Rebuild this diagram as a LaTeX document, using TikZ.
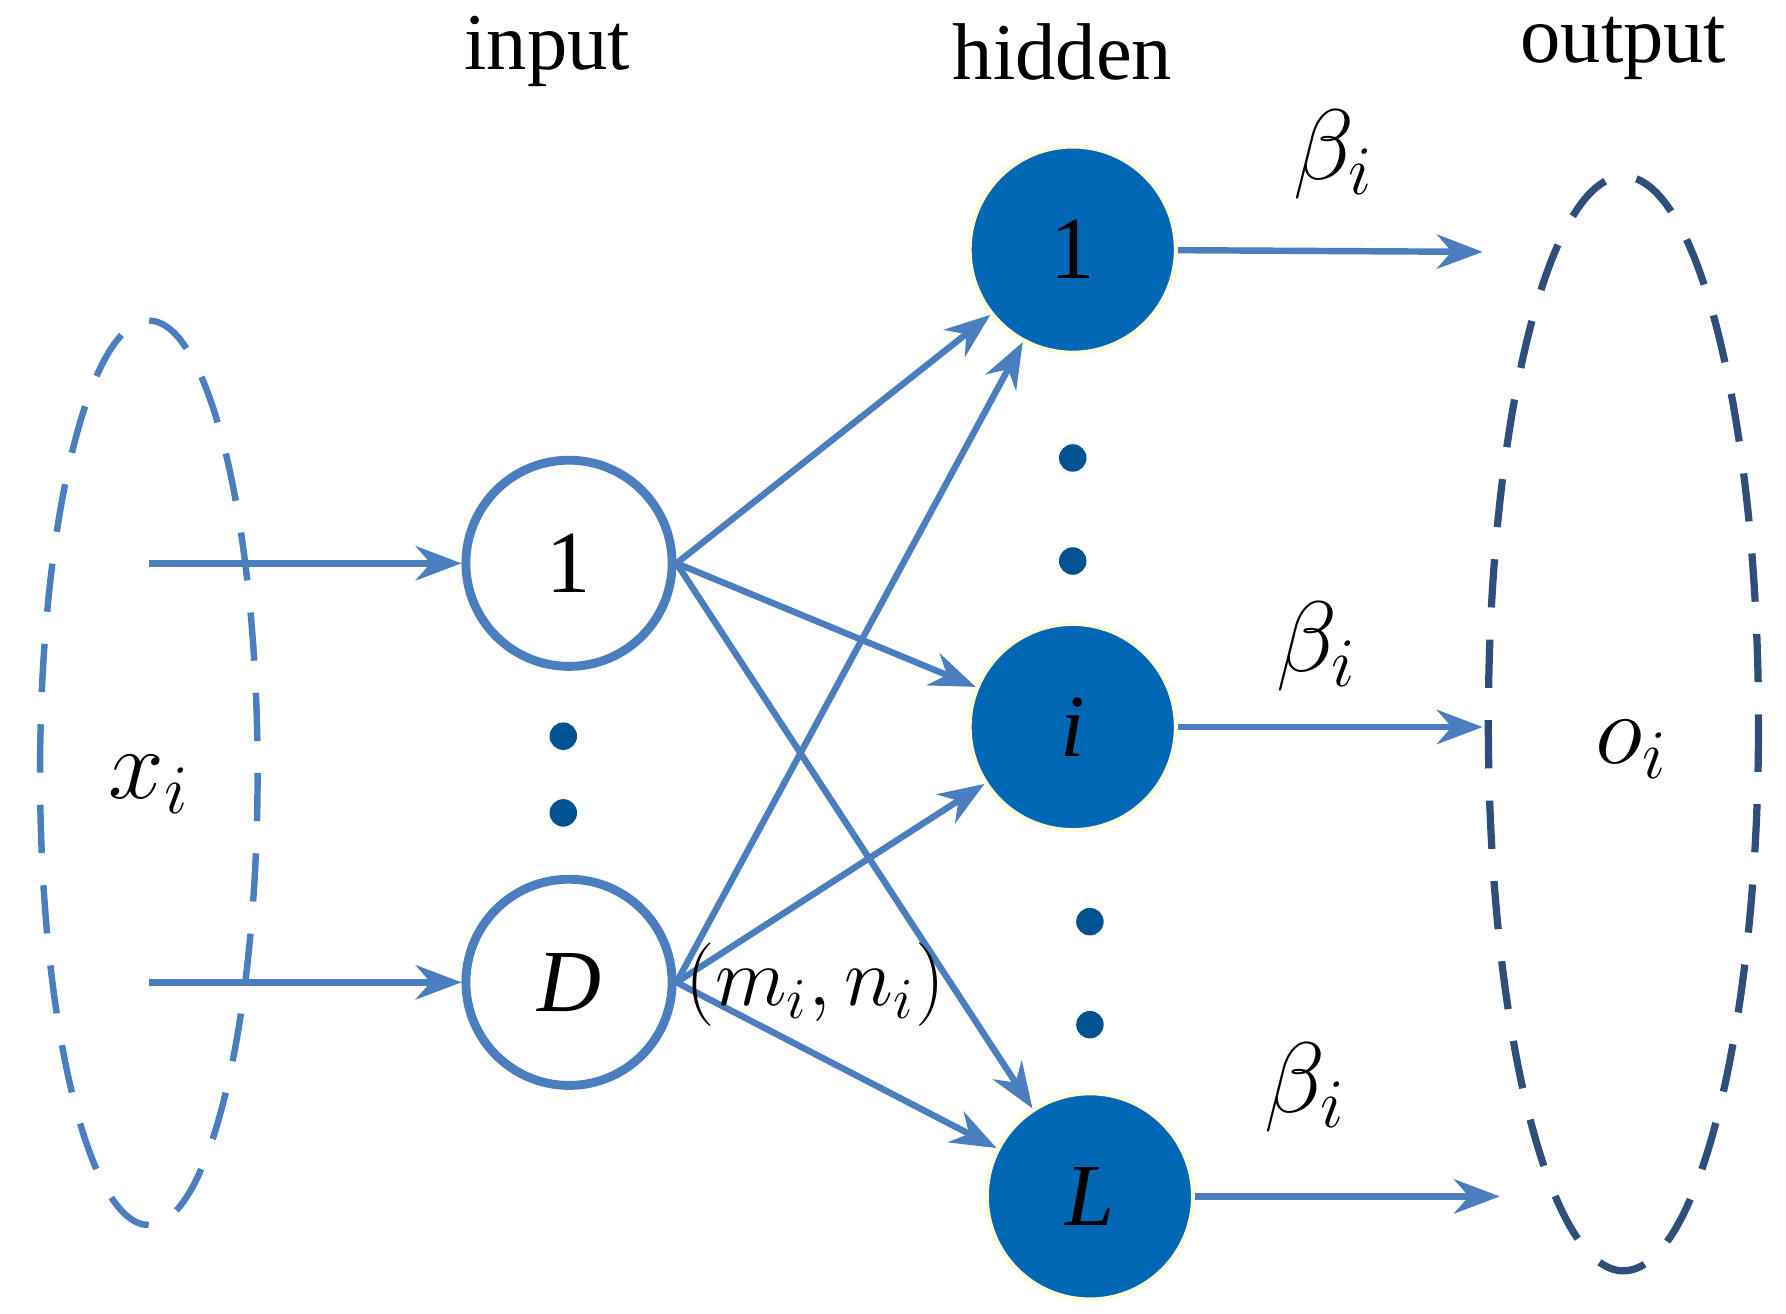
\documentclass[tikz,border=0pt]{standalone}
\usepackage{fontspec}
\setmainfont{Liberation Serif}
\usetikzlibrary{arrows.meta, positioning}
\definecolor{linkblue}{HTML}{4A7EBF}
\definecolor{cellblue}{HTML}{0067B5}
\definecolor{darkring}{HTML}{2F4F7A}
\begin{document}
\begin{tikzpicture}[x=0.01cm, y=-0.01cm,
  innode/.style={circle, draw=linkblue, line width=2.2pt, fill=white, minimum size=1.8cm, font=\fontsize{22}{24}\selectfont},
  hidnode/.style={circle, draw=yellow!15, line width=1pt, fill=cellblue, minimum size=1.8cm, font=\fontsize{22}{24}\selectfont},
  link/.style={-{Stealth[length=4mm,width=3mm]}, draw=linkblue, line width=1.6pt},
  dot/.style={circle, fill=cellblue!80!black, inner sep=0pt, minimum size=2.4mm},
  title/.style={font=\fontsize{20}{24}\selectfont}]
\useasboundingbox (0,0) rectangle (1560,1147);
% dashed groups
\draw [linkblue, line width=1.6pt, dash pattern=on 12pt off 8pt] (130,675) ellipse [x radius=95, y radius=395];
\draw [darkring, line width=1.8pt, dash pattern=on 12pt off 8pt] (1418,632) ellipse [x radius=118, y radius=478];
% titles
\node [title] (tin) at (478,45) {input};
\node [title] (thid) at (928,45) {hidden};
\node [title] (tout) at (1418,42) {output};
% input layer
\node (in1) [innode] at (497,492) {1};
\node (inD) [innode] at (497,858) {\textit{D}};
\node [dot] at (492,643) {};
\node [dot] at (492,710) {};
% hidden layer
\node (h1) [hidnode] at (937,218) {1};
\node (hi) [hidnode] at (937,635) {\textit{i}};
\node (hL) [hidnode] at (952,1045) {\textit{L}};
\node [dot] at (937,400) {};
\node [dot] at (937,490) {};
\node [dot] at (952,805) {};
\node [dot] at (952,895) {};
% free ends
\coordinate (x1) at (130,492);
\coordinate (xD) at (130,858);
\coordinate (o1) at (1295,220);
\coordinate (oi) at (1295,635);
\coordinate (oL) at (1310,1045);
\draw [link] (x1) -- (in1);
\draw [link] (xD) -- (inD);
\draw [link] (in1.east) -- (h1);
\draw [link] (in1.east) -- (hi);
\draw [link] (in1.east) -- (hL);
\draw [link] (inD.east) -- (h1);
\draw [link] (inD.east) -- (hi);
\draw [link] (inD.east) -- (hL);
\draw [link] (h1) -- (o1);
\draw [link] (hi) -- (oi);
\draw [link] (hL) -- (oL);
% labels
\node (b1) at (1165,135) {\fontsize{26}{28}\selectfont$\beta_i$};
\node (bi) at (1150,565) {\fontsize{26}{28}\selectfont$\beta_i$};
\node (bL) at (1140,950) {\fontsize{26}{28}\selectfont$\beta_i$};
\node (xl) at (130,685) {\fontsize{26}{28}\selectfont$x_i$};
\node (ol) at (1425,655) {\fontsize{26}{28}\selectfont$o_i$};
\node (mn) at (712,860) {\fontsize{22}{24}\selectfont$(m_i,n_i)$};
\end{tikzpicture}
\end{document}
